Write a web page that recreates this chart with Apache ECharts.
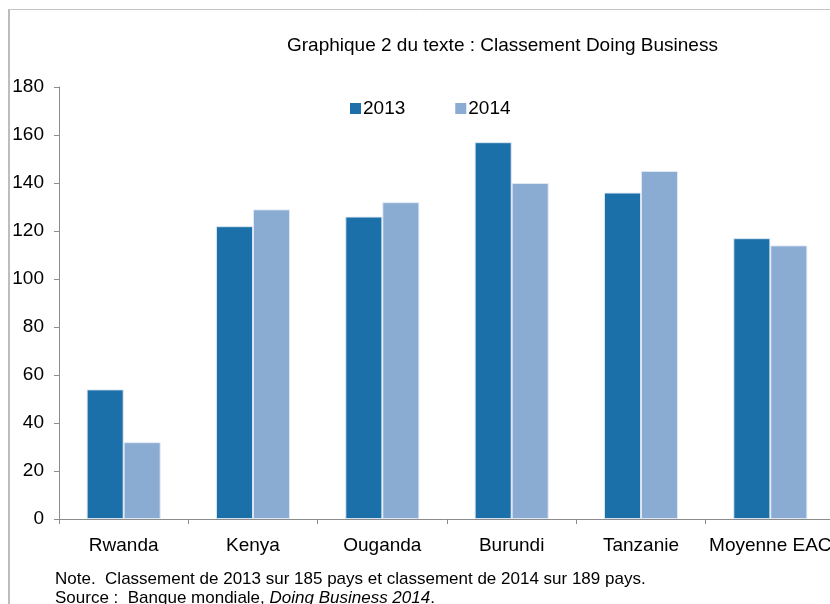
<!DOCTYPE html>
<html>
<head>
<meta charset="utf-8">
<script src="https://cdn.jsdelivr.net/npm/echarts@6/dist/echarts.min.js"></script>
<style>
  html, body { margin: 0; padding: 0; background: #fff; }
  #chart { width: 830px; height: 604px; }
</style>
</head>
<body>
<div id="chart"></div>
<script>
// Classement Doing Business, pays de la CAE
const categories = ['Rwanda', 'Kenya', 'Ouganda', 'Burundi', 'Tanzanie', 'Moyenne EAC'];
const rank2013 = [54, 122, 126, 157, 136, 117];
const rank2014 = [32, 129, 132, 140, 145, 114];
const yTicks = [0, 20, 40, 60, 80, 100, 120, 140, 160, 180];

const FONT = '"Liberation Sans", Arial, sans-serif';
const AXIS_GREY = '#8c8c8c';

const chart = echarts.init(document.getElementById('chart'), null, { renderer: 'canvas' });

chart.setOption({
  backgroundColor: '#ffffff',
  animation: false,
  title: {
    text: 'Graphique 2 du texte : Classement Doing Business',
    left: 287,
    top: 36,
    padding: 0,
    textStyle: { fontFamily: FONT, fontSize: 19, fontWeight: 'normal', color: '#000' }
  },
  legend: {
    data: ['2013', '2014'],
    left: 350,
    top: 99,
    padding: 0,
    icon: 'rect',
    itemWidth: 11,
    itemHeight: 11,
    itemGap: 50,
    itemStyle: { borderWidth: 0 },
    textStyle: { fontFamily: FONT, fontSize: 19, color: '#000', padding: [0, 0, 0, -3] }
  },
  grid: {
    left: 59,
    top: 87,
    width: 776,
    bottom: 85,
    containLabel: false,
    outerBoundsMode: 'none'
  },
  xAxis: {
    type: 'category',
    data: categories,
    axisLine: { lineStyle: { color: AXIS_GREY, width: 1 } },
    axisTick: { show: true, length: 5, interval: 0, alignWithLabel: false, lineStyle: { color: AXIS_GREY } },
    axisLabel: { interval: 0, fontFamily: FONT, fontSize: 19, color: '#000', margin: 17 }
  },
  yAxis: {
    type: 'value',
    min: yTicks[0],
    max: yTicks[yTicks.length - 1],
    interval: yTicks[1] - yTicks[0],
    splitLine: { show: false },
    axisLine: { show: true, lineStyle: { color: AXIS_GREY, width: 1 } },
    axisTick: { show: true, length: 5, lineStyle: { color: AXIS_GREY } },
    axisLabel: { fontFamily: FONT, fontSize: 19, color: '#000', margin: 15 }
  },
  series: [
    {
      name: '2013',
      type: 'bar',
      data: rank2013,
      barWidth: 37,
      barGap: '0%',
      itemStyle: { color: '#1b70a9', borderColor: 'rgba(220,232,242,0.9)', borderWidth: 1 }
    },
    {
      name: '2014',
      type: 'bar',
      data: rank2014,
      barWidth: 37,
      itemStyle: { color: '#8aabd2', borderColor: 'rgba(225,234,245,0.9)', borderWidth: 1 }
    }
  ],
  graphic: [
    {
      type: 'line',
      shape: { x1: 9, y1: 9, x2: 9, y2: 604 },
      style: { stroke: '#bdbdbd', lineWidth: 2 }
    },
    {
      type: 'line',
      shape: { x1: 9, y1: 9.5, x2: 830, y2: 9.5 },
      style: { stroke: '#c4c4c4', lineWidth: 1 }
    },
    {
      type: 'text',
      left: 55,
      top: 571,
      style: {
        text: 'Note.  Classement de 2013 sur 185 pays et classement de 2014 sur 189 pays.',
        font: '17px ' + FONT,
        fill: '#000'
      }
    },
    {
      type: 'text',
      left: 55,
      top: 590,
      style: {
        text: 'Source :  Banque mondiale, {i|Doing Business 2014}.',
        font: '17px ' + FONT,
        fill: '#000',
        rich: {
          i: { fontStyle: 'italic', fontFamily: FONT, fontSize: 17, fill: '#000' }
        }
      }
    }
  ]
});
</script>
</body>
</html>
